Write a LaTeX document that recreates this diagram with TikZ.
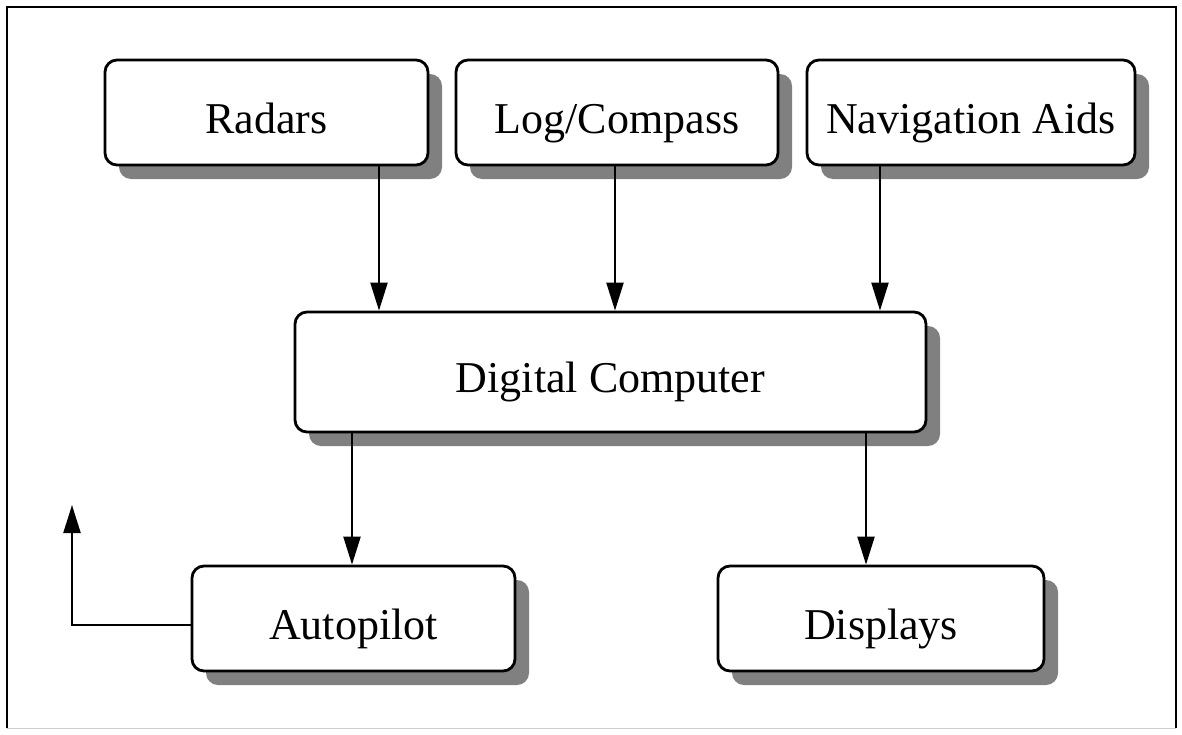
\documentclass[tikz,border=0pt]{standalone}
\usepackage{fontspec}
\setmainfont{Liberation Serif}
\usetikzlibrary{arrows.meta,shadows}
\tikzset{
  unitbox/.style={draw=black, line width=2.8pt, fill=white, rounded corners=12pt,
    inner sep=0pt, minimum height=105pt, text height=41pt, text depth=0pt,
    font=\fontsize{44}{52}\selectfont,
    drop shadow={shadow xshift=14pt, shadow yshift=-14pt, fill=black!50, opacity=1}},
  flow/.style={line width=2.2pt, -{Triangle[length=28pt,width=17pt]}},
}
\begin{document}
\begin{tikzpicture}[x=1pt,y=-1pt]
  \useasboundingbox (0,0) rectangle (1182,734);
  % outer frame
  \draw[line width=2.2pt] (7,728) -- (7,7) -- (1176,7) -- (1176,728);
  \draw[line width=1pt, gray!40] (7,728) -- (1176,728);

  % sensors
  \node[unitbox, minimum width=323pt] (rad) at (266.5,112.5) {Radars};
  \node[unitbox, minimum width=322pt] (log) at (617,112.5) {Log/Compass};
  \node[unitbox, minimum width=328pt] (nav) at (971,112.5) {Navigation Aids};

  % processor
  \node[unitbox, minimum width=631pt, minimum height=120pt] (dc) at (610.5,372) {Digital Computer};

  % outputs
  \node[unitbox, minimum width=323pt] (ap) at (353.5,618.5) {Autopilot};
  \node[unitbox, minimum width=326pt] (dsp) at (881,618.5) {Displays};

  % signal flow
  \draw[flow] ([xshift=112.5pt]rad.south) -- ([xshift=112.5pt]rad.south |- dc.north);
  \draw[flow] ([xshift=-2pt]log.south) -- ([xshift=-2pt]log.south |- dc.north);
  \draw[flow] ([xshift=-91pt]nav.south) -- ([xshift=-91pt]nav.south |- dc.north);
  \draw[flow] ([xshift=-258.5pt]dc.south) -- ([xshift=-258.5pt]dc.south |- ap.north);
  \draw[flow] ([xshift=255.5pt]dc.south) -- ([xshift=255.5pt]dc.south |- dsp.north);

  % autopilot command output
  \coordinate (apout) at (72,505);
  \draw[flow] ([yshift=-6.5pt]ap.west) -| (apout);
\end{tikzpicture}
\end{document}
